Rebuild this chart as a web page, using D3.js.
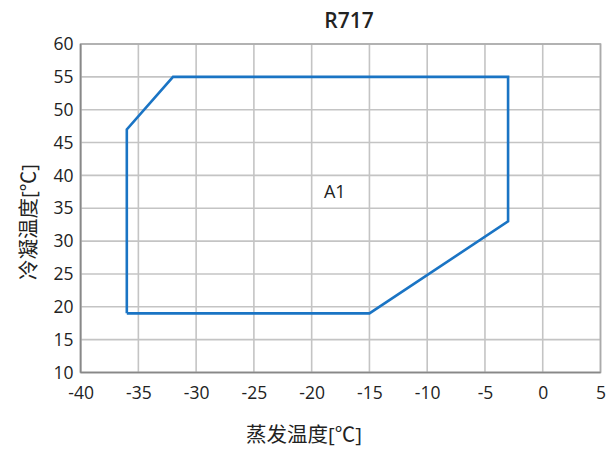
<!DOCTYPE html>
<html><head><meta charset="utf-8">
<script src="https://cdn.jsdelivr.net/npm/d3@7"></script>
<style>body{margin:0;background:#fff}svg{display:block}text{font-family:"Open Sans","Noto Sans CJK SC",sans-serif;fill:#222}</style>
</head><body><svg id="c" width="607" height="451"></svg>
<script>
const title = "R717";
const xLabel = "蒸发温度[℃]";
const yLabel = "冷凝温度[℃]";
const xTicks = [-40,-35,-30,-25,-20,-15,-10,-5,0,5];
const yTicks = [10,15,20,25,30,35,40,45,50,55,60];
const envX = [-36,-36,-32,-3,-3,-15,-36];
const envY = [19,47,55,55,33,19,19];
const areaLabel = "A1";
const areaLabelPos = [-18, 37.5];

const svg = d3.select("#c");
const m = {l:80.6, r:600.5, t:44, b:372.5};
const x = d3.scaleLinear().domain([-40,5]).range([m.l,m.r]);
const y = d3.scaleLinear().domain([10,60]).range([m.b,m.t]);

const g = svg.append("g");
g.selectAll(".gx").data(xTicks).join("line")
  .attr("x1",d=>x(d)).attr("x2",d=>x(d)).attr("y1",m.t).attr("y2",m.b)
  .attr("stroke","#c4c4c4").attr("stroke-width",1.6);
g.selectAll(".gy").data(yTicks).join("line")
  .attr("y1",d=>y(d)).attr("y2",d=>y(d)).attr("x1",m.l).attr("x2",m.r)
  .attr("stroke","#c4c4c4").attr("stroke-width",1.6);
g.append("rect").attr("x",m.l).attr("y",m.t).attr("width",m.r-m.l).attr("height",m.b-m.t)
  .attr("fill","none").attr("stroke","#aaa").attr("stroke-width",1.6);
g.append("line").attr("x1",m.l).attr("x2",m.r).attr("y1",m.b).attr("y2",m.b).attr("stroke","#888").attr("stroke-width",1.6);
g.append("line").attr("x1",m.l).attr("x2",m.l).attr("y1",m.t).attr("y2",m.b).attr("stroke","#888").attr("stroke-width",1.6);

const xa = svg.append("g").attr("transform",`translate(0,${m.b})`)
  .call(d3.axisBottom(x).tickValues(xTicks).tickSize(0).tickPadding(14).tickFormat(d=>d));
xa.select(".domain").remove();
xa.selectAll("text").attr("font-size",17.5).style("fill","#222").attr("dy","0.71em");
const ya = svg.append("g").attr("transform",`translate(${m.l},0)`)
  .call(d3.axisLeft(y).tickValues(yTicks).tickSize(0).tickPadding(7).tickFormat(d=>d));
ya.select(".domain").remove();
ya.selectAll("text").attr("font-size",17.5).style("fill","#222");

const pts = envX.map((v,i)=>[v,envY[i]]);
svg.append("path").attr("d", d3.line().x(d=>x(d[0])).y(d=>y(d[1]))(pts))
  .attr("fill","none").attr("stroke","#1a74c4").attr("stroke-width",2.6).attr("stroke-linejoin","miter");

svg.append("text").attr("x",x(areaLabelPos[0])).attr("y",y(areaLabelPos[1]))
  .attr("text-anchor","middle").attr("dy","0.35em").attr("font-size",18).text(areaLabel);

svg.append("text").attr("x",349).attr("y",28).attr("text-anchor","middle")
  .attr("font-size",21).attr("font-weight",600).text(title);
svg.append("text").attr("x",304).attr("y",442).attr("text-anchor","middle")
  .attr("font-size",20.5).text(xLabel);
svg.append("text").attr("transform",`translate(36,222) rotate(-90)`).attr("text-anchor","middle")
  .attr("font-size",20.5).text(yLabel);
</script></body></html>
